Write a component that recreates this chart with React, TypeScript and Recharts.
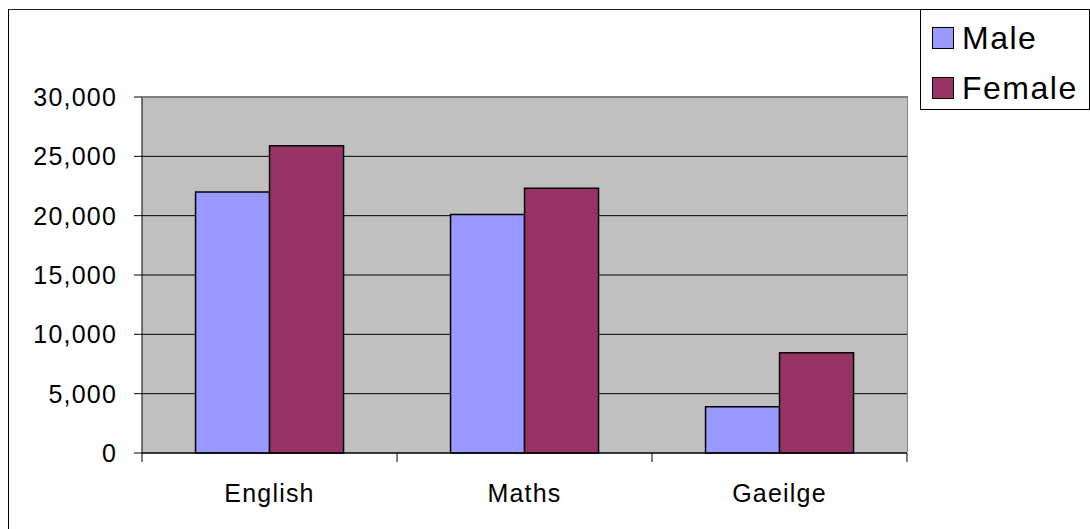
import React from 'react';
import { BarChart, Bar, XAxis, YAxis, CartesianGrid } from 'recharts';

const categories = ['English', 'Maths', 'Gaeilge'];
const maleValues = [22000, 20100, 3900];
const femaleValues = [25900, 22300, 8450];
const yTicks = [0, 5000, 10000, 15000, 20000, 25000, 30000];

const series = [
    { key: 'male', name: 'Male', color: '#9999FF' },
    { key: 'female', name: 'Female', color: '#993366' },
];

const data = categories.map((category, i) => ({
    category,
    male: maleValues[i],
    female: femaleValues[i],
}));

const W = 1090;
const H = 529;
const PLOT_LEFT = 142;
const PLOT_RIGHT = 907;
const PLOT_TOP = 97;
const PLOT_BOTTOM = 453;
const FONT = '"Liberation Sans", Arial, sans-serif';
const BAND = (PLOT_RIGHT - PLOT_LEFT) / categories.length;

const fmt = (v: number) => v.toLocaleString('en-US');

const CategoryTick = ({ x, payload, index }: any) => (
    <g>
        <line x1={x - BAND / 2} x2={x - BAND / 2} y1={PLOT_BOTTOM} y2={PLOT_BOTTOM + 9} stroke="#000" />
        {index === categories.length - 1 && (
            <line x1={x + BAND / 2} x2={x + BAND / 2} y1={PLOT_BOTTOM} y2={PLOT_BOTTOM + 9} stroke="#000" />
        )}
        <text
            x={x}
            y={PLOT_BOTTOM + 49}
            textAnchor="middle"
            fontFamily={FONT}
            fontSize={25}
            fill="#000"
            style={{ letterSpacing: '1.2px' }}
        >
            {payload.value}
        </text>
    </g>
);

const ValueTick = ({ y, payload }: any) => (
    <text
        x={PLOT_LEFT - 25}
        y={y}
        dy={9}
        textAnchor="end"
        fontFamily={FONT}
        fontSize={25}
        fill="#000"
        style={{ letterSpacing: '1.2px' }}
    >
        {fmt(payload.value)}
    </text>
);

export default function App() {
    return (
        <div style={{ position: 'absolute', left: 0, top: 0, width: W, height: H, background: '#fff', overflow: 'hidden' }}>
            {/* outer chart frame, only left and top edges visible */}
            <div
                style={{
                    position: 'absolute',
                    left: 8,
                    top: 9,
                    width: W - 8,
                    height: H - 9,
                    borderLeft: '1px solid #000',
                    borderTop: '1px solid #222',
                    boxSizing: 'border-box',
                }}
            />
            <div style={{ position: 'absolute', left: 0, top: 0 }}>
                <BarChart
                    width={W}
                    height={H}
                    data={data}
                    margin={{ top: PLOT_TOP, right: W - PLOT_RIGHT, bottom: 0, left: 0 }}
                    barCategoryGap="21%"
                    barGap={0}
                >
                    <CartesianGrid vertical={false} stroke="#000" fill="#C0C0C0" fillOpacity={1} />
                    <XAxis
                        dataKey="category"
                        height={H - PLOT_BOTTOM}
                        axisLine={{ stroke: '#000' }}
                        tickLine={false}
                        tick={<CategoryTick />}
                        interval={0}
                    />
                    <YAxis
                        width={PLOT_LEFT}
                        domain={[0, 30000]}
                        ticks={yTicks}
                        interval={0}
                        axisLine={{ stroke: '#000' }}
                        tickLine={{ stroke: '#000' }}
                        tickSize={8}
                        tick={<ValueTick />}
                    />
                    {series.map((s) => (
                        <Bar
                            key={s.key}
                            dataKey={s.key}
                            name={s.name}
                            fill={s.color}
                            stroke="#000"
                            strokeWidth={1.5}
                            isAnimationActive={false}
                        />
                    ))}
                </BarChart>
            </div>
            {/* plot area border, top and right */}
            <div
                style={{
                    position: 'absolute',
                    left: PLOT_LEFT,
                    top: PLOT_TOP - 1,
                    width: PLOT_RIGHT - PLOT_LEFT + 1,
                    height: PLOT_BOTTOM - PLOT_TOP,
                    borderTop: '2px solid #808080',
                    borderRight: '1px solid #808080',
                    boxSizing: 'border-box',
                    pointerEvents: 'none',
                }}
            />
            {/* legend */}
            <div
                style={{
                    position: 'absolute',
                    left: 920,
                    top: 9,
                    width: 170,
                    height: 101,
                    border: '1px solid #000',
                    boxSizing: 'border-box',
                    background: '#fff',
                    fontFamily: FONT,
                }}
            >
                {series.map((s, i) => (
                    <div
                        key={s.key}
                        style={{
                            position: 'absolute',
                            left: 11,
                            top: 17 + i * 50,
                            height: 22,
                            display: 'flex',
                            alignItems: 'center',
                            whiteSpace: 'nowrap',
                        }}
                    >
                        <div
                            style={{
                                width: 22,
                                height: 22,
                                background: s.color,
                                border: '1.5px solid #000',
                                boxSizing: 'border-box',
                            }}
                        />
                        <span style={{ marginLeft: 8, fontSize: 32, lineHeight: '22px', letterSpacing: '1.5px', color: '#000' }}>
                            {s.name}
                        </span>
                    </div>
                ))}
            </div>
        </div>
    );
}
